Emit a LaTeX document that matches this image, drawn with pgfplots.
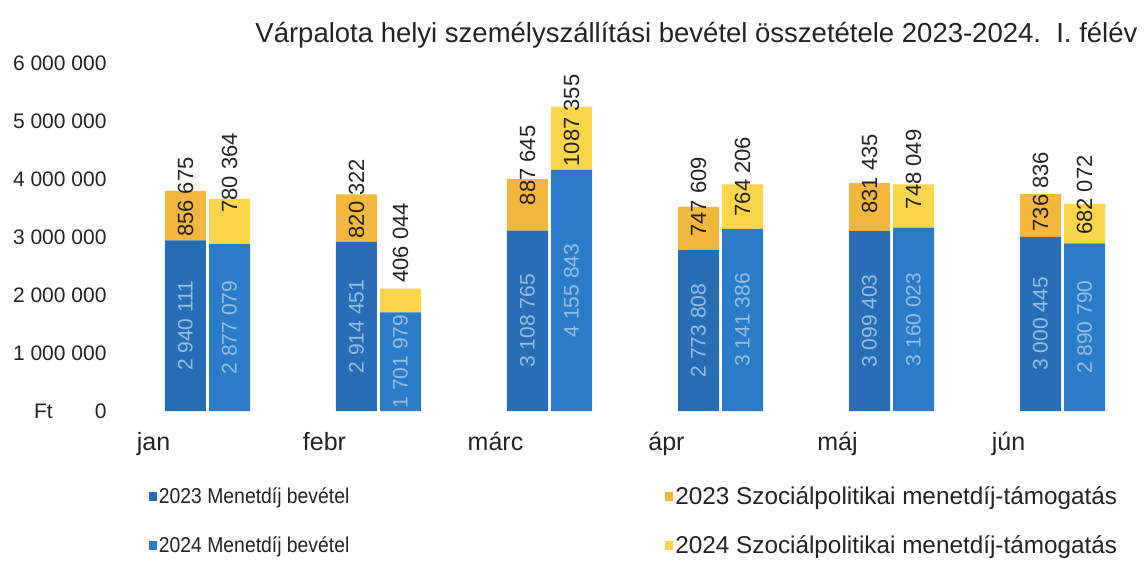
\documentclass[border=0pt]{standalone}
\usepackage{fontspec}
\setmainfont{Liberation Sans}
\newfontfamily\narrowfont{Liberation Sans}[FakeStretch=0.9]
\usepackage{pgfplots}
\usepackage{pgfplotstable}
\pgfplotsset{compat=1.18}

\definecolor{blueA}{RGB}{40,110,182}
\definecolor{blueB}{RGB}{43,124,200}
\definecolor{orA}{RGB}{244,183,62}
\definecolor{yeB}{RGB}{252,214,74}
\definecolor{lbl}{RGB}{150,188,224}
\definecolor{txt}{RGB}{35,35,35}

% x = month index, b = Menetdij bevetel, s = Szocialpolitikai menetdij-tamogatas
\pgfplotstableread[col sep=comma]{
x,b,s,bl,sl,so
0,2940111,856675,2 940 111,856 675,0
1,2914451,820322,2 914 451,820 322,0
2,3108765,887645,3 108 765,887 645,22
3,2773808,747609,2 773 808,747 609,10
4,3099403,831435,3 099 403,831 435,14
5,3000445,736836,3 000 445,736 836,2
}\tA
\pgfplotstableread[col sep=comma]{
x,b,s,bl,sl,so
0,2877079,780364,2 877 079,780 364,28
1,1701979,406044,1 701 979,406 044,26
2,4155843,1087355,4 155 843,1087 355,0
3,3141386,764206,3 141 386,764 206,9
4,3160023,748049,3 160 023,748 049,15
5,2890790,682072,2 890 790,682 072,5
}\tB

\pgfplotsset{
  base/.style={
    at={(122pt,154pt)}, anchor=south west,
    width=991.8pt, height=348pt, scale only axis,
    xmin=-0.5, xmax=5.3, ymin=0, ymax=6000000,
    clip=false,
  },
  sq legend/.style={legend image code/.code={\fill[##1] (0pt,-4.5pt) rectangle (8pt,4.5pt);}},
}

\begin{document}
\begin{tikzpicture}
\path[use as bounding box] (0pt,0pt) rectangle (1147pt,565pt);

% 2023 stacked bars, axis ticks and legend
\begin{axis}[base,
  ybar stacked, bar width=41pt,
  axis line style={draw=none}, tick style={draw=none},
  scaled y ticks=false,
  ytick={0,1000000,2000000,3000000,4000000,5000000,6000000},
  yticklabels={{Ft\hspace{42pt}0\hspace{5pt}},1 000 000,2 000 000,3 000 000,4 000 000,5 000 000,6 000 000},
  yticklabel style={font=\fontsize{21}{24}\selectfont, color=txt, xshift=-12pt},
  xtick={0,1,2,3,4,5},
  xticklabels={jan,febr,márc,ápr,máj,jún},
  xticklabel style={font=\fontsize{25}{28}\selectfont, color=txt, xshift=-54pt, yshift=-18pt},
  legend columns=2,
  legend cell align=left,
  legend style={draw=none, fill=none, at={(0.027,-0.212)}, anchor=north west,
    font=\fontsize{20}{22}\selectfont, text=txt, inner sep=0pt, row sep=25pt,
    /tikz/column 1/.style={column sep=0pt},
    /tikz/column 2/.style={column sep=314pt},
    /tikz/column 3/.style={column sep=0pt}},
]
\addplot[fill=blueA, draw=none, sq legend] table[x expr=\thisrow{x}-0.1287, y=b]{\tA};
\addlegendentry{\narrowfont\fontsize{21.5}{24}\selectfont 2023 Menetdíj bevétel}
\addplot[fill=orA, draw=none, sq legend] table[x expr=\thisrow{x}-0.1287, y=s]{\tA};
\addlegendentry{\fontsize{24.3}{26}\selectfont 2023 Szociálpolitikai menetdíj-támogatás}
\addlegendimage{fill=blueB, draw=none, sq legend}
\addlegendentry{\narrowfont\fontsize{21.5}{24}\selectfont 2024 Menetdíj bevétel}
\addlegendimage{fill=yeB, draw=none, sq legend}
\addlegendentry{\fontsize{24.3}{26}\selectfont 2024 Szociálpolitikai menetdíj-támogatás}
\end{axis}

% 2024 stacked bars
\begin{axis}[base, hide axis, ybar stacked, bar width=41pt]
\addplot[fill=blueB, draw=none] table[x expr=\thisrow{x}+0.1287, y=b]{\tB};
\addplot[fill=yeB, draw=none] table[x expr=\thisrow{x}+0.1287, y=s]{\tB};
\end{axis}

% value labels
\begin{axis}[base, hide axis]
\addplot[draw=none, mark=none, point meta=explicit symbolic, nodes near coords,
  every node near coord/.append style={font=\fontsize{21}{24}\selectfont, color=lbl, anchor=center, rotate=90}]
  table[x expr=\thisrow{x}-0.1287, y expr=\thisrow{b}/2, meta=bl]{\tA};
\addplot[draw=none, mark=none, point meta=explicit symbolic, nodes near coords,
  every node near coord/.append style={font=\fontsize{21}{24}\selectfont, color=lbl, anchor=center, rotate=90}]
  table[x expr=\thisrow{x}+0.1287, y expr=\thisrow{b}/2, meta=bl]{\tB};
\addplot[draw=none, mark=none, point meta=explicit symbolic, nodes near coords,
  visualization depends on={\thisrow{so}\as\so},
  every node near coord/.append style={font=\fontsize{22}{24}\selectfont, color=txt, yshift=\so pt, anchor=west, rotate=90}]
  table[x expr=\thisrow{x}-0.1287, y=b, meta=sl]{\tA};
\addplot[draw=none, mark=none, point meta=explicit symbolic, nodes near coords,
  visualization depends on={\thisrow{so}\as\so},
  every node near coord/.append style={font=\fontsize{22}{24}\selectfont, color=txt, yshift=\so pt, anchor=west, rotate=90}]
  table[x expr=\thisrow{x}+0.1287, y=b, meta=sl]{\tB};
\end{axis}

\node[anchor=east, font=\fontsize{27.5}{30}\selectfont, color=txt] at (1141pt,530pt)
  {Várpalota helyi személyszállítási bevétel összetétele 2023-2024.\ \ I. félév};
\end{tikzpicture}
\end{document}
